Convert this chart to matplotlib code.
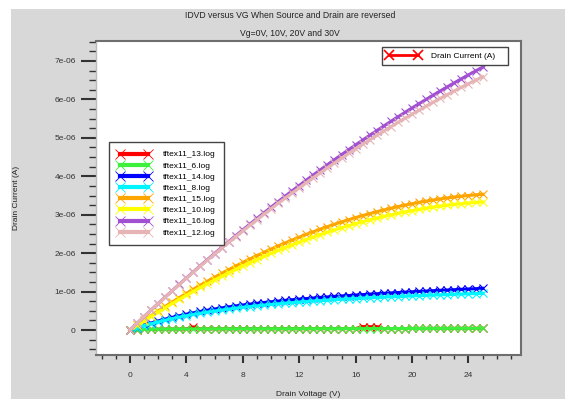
import numpy as np
import matplotlib
matplotlib.use("Agg")
import matplotlib.pyplot as plt
from matplotlib.lines import Line2D
from matplotlib.patches import Rectangle
from matplotlib.ticker import MultipleLocator, FuncFormatter

plt.rcParams['font.family'] = ['Liberation Sans', 'DejaVu Sans']

# drain voltage sweep (V)
vd = np.arange(0, 25.01, 0.5)

# drain current, in units of 1e-6 A
i_13 = [0, 0.008, 0.014, 0.018, 0.021, 0.023, 0.025, 0.026, 0.027, 0.08,
        0.029, 0.029, 0.030, 0.030, 0.031, 0.031, 0.032, 0.032, 0.032, 0.033,
        0.033, 0.033, 0.034, 0.034, 0.034, 0.035, 0.035, 0.035, 0.036, 0.036,
        0.036, 0.037, 0.037, 0.09, 0.085, 0.09, 0.038, 0.039, 0.039, 0.039,
        0.040, 0.040, 0.040, 0.041, 0.041, 0.042, 0.042, 0.043, 0.043, 0.044,
        0.044]
i_6 = [0, 0.008, 0.014, 0.018, 0.021, 0.023, 0.025, 0.026, 0.027, 0.028,
       0.029, 0.029, 0.030, 0.030, 0.031, 0.031, 0.032, 0.032, 0.032, 0.033,
       0.033, 0.033, 0.034, 0.034, 0.034, 0.035, 0.035, 0.035, 0.036, 0.036,
       0.036, 0.037, 0.037, 0.037, 0.038, 0.038, 0.038, 0.039, 0.039, 0.039,
       0.040, 0.040, 0.040, 0.041, 0.041, 0.042, 0.042, 0.043, 0.043, 0.044,
       0.044]
i_14 = [0, 0.065, 0.126, 0.182, 0.234, 0.283, 0.328, 0.371, 0.410, 0.447,
        0.482, 0.515, 0.545, 0.574, 0.601, 0.626, 0.650, 0.673, 0.694, 0.715,
        0.734, 0.752, 0.770, 0.787, 0.803, 0.818, 0.832, 0.847, 0.860, 0.873,
        0.886, 0.898, 0.910, 0.921, 0.933, 0.944, 0.954, 0.965, 0.975, 0.985,
        0.994, 1.004, 1.013, 1.023, 1.032, 1.041, 1.049, 1.058, 1.067, 1.075,
        1.084]
i_8 = [0, 0.058, 0.113, 0.163, 0.211, 0.255, 0.296, 0.335, 0.371, 0.405,
       0.436, 0.466, 0.494, 0.520, 0.545, 0.568, 0.590, 0.610, 0.630, 0.648,
       0.665, 0.682, 0.697, 0.712, 0.726, 0.740, 0.753, 0.765, 0.776, 0.788,
       0.798, 0.809, 0.819, 0.828, 0.837, 0.846, 0.855, 0.863, 0.871, 0.879,
       0.887, 0.894, 0.902, 0.909, 0.916, 0.922, 0.929, 0.936, 0.942, 0.948,
       0.955]
i_15 = [0, 0.127, 0.252, 0.375, 0.495, 0.613, 0.729, 0.842, 0.953, 1.062,
        1.168, 1.272, 1.374, 1.473, 1.571, 1.665, 1.758, 1.848, 1.936, 2.022,
        2.105, 2.186, 2.265, 2.341, 2.415, 2.487, 2.556, 2.624, 2.688, 2.751,
        2.811, 2.869, 2.925, 2.978, 3.029, 3.077, 3.124, 3.168, 3.210, 3.249,
        3.286, 3.321, 3.353, 3.384, 3.411, 3.437, 3.460, 3.481, 3.500, 3.516,
        3.530]
i_10 = [0, 0.121, 0.239, 0.355, 0.469, 0.581, 0.691, 0.798, 0.903, 1.006,
        1.107, 1.206, 1.302, 1.396, 1.488, 1.578, 1.666, 1.751, 1.834, 1.915,
        1.994, 2.071, 2.145, 2.217, 2.287, 2.355, 2.420, 2.484, 2.545, 2.604,
        2.660, 2.715, 2.767, 2.817, 2.865, 2.911, 2.954, 2.996, 3.035, 3.071,
        3.106, 3.138, 3.169, 3.197, 3.223, 3.246, 3.268, 3.287, 3.304, 3.319,
        3.331]
i_16 = [0, 0.174, 0.347, 0.518, 0.688, 0.856, 1.022, 1.188, 1.351, 1.513,
        1.674, 1.833, 1.990, 2.146, 2.300, 2.453, 2.604, 2.754, 2.902, 3.049,
        3.194, 3.338, 3.480, 3.621, 3.760, 3.898, 4.034, 4.168, 4.301, 4.432,
        4.562, 4.691, 4.818, 4.943, 5.067, 5.189, 5.310, 5.429, 5.547, 5.663,
        5.778, 5.891, 6.002, 6.112, 6.221, 6.328, 6.433, 6.537, 6.640, 6.741,
        6.840]
i_12 = [0, 0.174, 0.347, 0.517, 0.686, 0.853, 1.019, 1.183, 1.345, 1.505,
        1.664, 1.820, 1.976, 2.129, 2.281, 2.431, 2.579, 2.725, 2.870, 3.013,
        3.154, 3.294, 3.432, 3.568, 3.702, 3.835, 3.966, 4.095, 4.223, 4.348,
        4.472, 4.595, 4.715, 4.834, 4.951, 5.067, 5.180, 5.292, 5.402, 5.511,
        5.618, 5.723, 5.826, 5.928, 6.027, 6.125, 6.222, 6.316, 6.409, 6.501,
        6.590]

names = ["tftex11_13.log", "tftex11_6.log", "tftex11_14.log", "tftex11_8.log",
         "tftex11_15.log", "tftex11_10.log", "tftex11_16.log", "tftex11_12.log"]
currents = [i_13, i_6, i_14, i_8, i_15, i_10, i_16, i_12]
colors = ["#ff0000", "#3cf03c", "#0000ff", "#00f5ff",
          "#ffa500", "#ffff00", "#a050d0", "#e6b4b4"]

fig = plt.figure(figsize=(5.65, 3.99), dpi=100, facecolor="white")
# grey panel behind everything (white strip at left/top like the original)
fig.patches.append(Rectangle((11 / 565, 0), 1, 1 - 9 / 399, transform=fig.transFigure,
                             facecolor="#d8d8d8", edgecolor="none", zorder=-5))

ax = fig.add_axes([96 / 565, 1 - 355 / 399, 424.7 / 565, 314 / 399])
ax.set_facecolor("white")

for cur, col in zip(currents, colors):
    ax.plot(vd, np.array(cur) * 1e-6, color=col, lw=2.2, marker="x",
            markersize=6, markeredgewidth=0.8)

ax.set_xlim(-2.4, 27.7)
ax.set_ylim(-0.65e-6, 7.52e-6)
ax.xaxis.set_major_locator(MultipleLocator(4))
ax.xaxis.set_minor_locator(MultipleLocator(1))
ax.yaxis.set_major_locator(MultipleLocator(1e-6))
ax.yaxis.set_minor_locator(MultipleLocator(0.25e-6))
ax.yaxis.set_major_formatter(FuncFormatter(lambda v, p: "%g" % round(v, 12)))

ax.tick_params(axis="y", which="major", direction="out", length=11, width=1.5,
               color="#333333", labelsize=6, labelcolor="#333333", pad=3.5)
ax.tick_params(axis="y", which="minor", direction="out", length=5, width=1,
               color="#333333")
ax.tick_params(axis="x", which="major", direction="out", length=5.5, width=1.5,
               color="#333333", labelsize=6, labelcolor="#333333", pad=7)
ax.tick_params(axis="x", which="minor", direction="out", length=3, width=1,
               color="#333333")

for s in ax.spines.values():
    s.set_color("#6e6e6e")
    s.set_linewidth(1.5)
ax.spines["left"].set_color("#bbbbbb")
ax.spines["left"].set_linewidth(1)

ax.set_xlabel("Drain Voltage (V)", fontsize=6, color="#222222")
ax.set_ylabel("Drain Current (A)", fontsize=6, color="#222222")
ax.xaxis.label.set_va("center")
ax.yaxis.label.set_va("center")
ax.xaxis.set_label_coords(0.5, (355 - 394) / 314)
ax.yaxis.set_label_coords((16 - 96) / 424.7, 0.5)

fig.text(290 / 565, 1 - 16 / 399, "IDVD versus VG When Source and Drain are reversed",
         ha="center", va="center", fontsize=6.2, color="#222222")
fig.text(290 / 565, 1 - 33 / 399, "Vg=0V, 10V, 20V and 30V",
         ha="center", va="center", fontsize=6.2, color="#222222")

# legend of the files
handles = [Line2D([], [], color=c, lw=3, marker="x", markersize=7,
                  markeredgewidth=0.6) for c in colors]
leg = ax.legend(handles, names, loc="upper left",
                bbox_to_anchor=((109 - 96) / 424.7, (355 - 142.3) / 314),
                borderaxespad=0, numpoints=2, fontsize=6, handlelength=4.0,
                handletextpad=1.5, labelspacing=0.4, borderpad=1.0,
                fancybox=False, framealpha=1, edgecolor="#444444")
leg.get_frame().set_linewidth(1)
ax.add_artist(leg)

# single-entry legend in the top right
h1 = Line2D([], [], color="#ff0000", lw=2, marker="x", markersize=7,
            markeredgewidth=1.2)
leg2 = ax.legend([h1], ["Drain Current (A)"], loc="upper left",
                 bbox_to_anchor=((381.7 - 96) / 424.7, (355 - 71.7) / 314,
                                 126 / 424.7, 25 / 314),
                 mode="expand", borderaxespad=0, numpoints=2, fontsize=6,
                 handlelength=4.0, handletextpad=1.3, borderpad=0.6,
                 fancybox=False, framealpha=1, edgecolor="#444444")
leg2.get_frame().set_linewidth(1)

fig.savefig("out.png", dpi=100, facecolor=fig.get_facecolor())
